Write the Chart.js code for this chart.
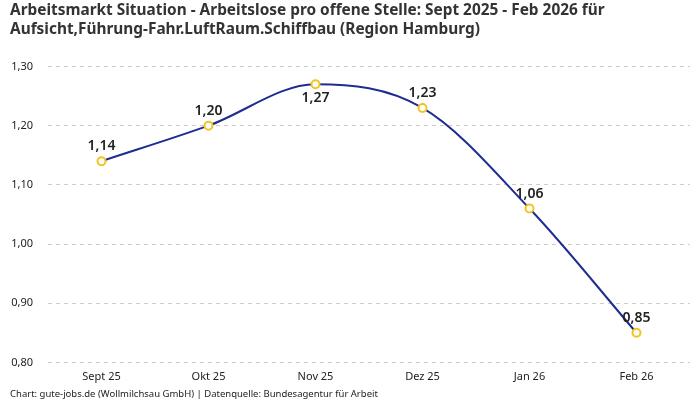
<!DOCTYPE html>
<html>
<head>
<meta charset="utf-8">
<script src="https://cdn.jsdelivr.net/npm/chart.js@4/dist/chart.umd.min.js"></script>
<style>
html,body{margin:0;padding:0;background:#fff;}
#wrap{width:700px;height:400px;}
</style>
</head>
<body>
<div id="wrap"><canvas id="c"></canvas></div>
<script>
const categories = ["Sept 25","Okt 25","Nov 25","Dez 25","Jan 26","Feb 26"];
const values = [1.14, 1.20, 1.27, 1.23, 1.06, 0.85];
const yTicks = [0.80, 0.90, 1.00, 1.10, 1.20, 1.30];
const titleLines = ["Arbeitsmarkt Situation - Arbeitslose pro offene Stelle: Sept 2025 - Feb 2026 für","Aufsicht,Führung-Fahr.LuftRaum.Schiffbau (Region Hamburg)"];
const footerText = "Chart: gute-jobs.de (Wollmilchsau GmbH) | Datenquelle: Bundesagentur für Arbeit";

const fmt = v => v.toFixed(2).replace('.', ',');
const FONT = "'Noto Sans', 'DejaVu Sans', sans-serif";

const labelPlugin = {
  id: 'valueLabels',
  afterDatasetsDraw(chart) {
    const ctx = chart.ctx;
    const meta = chart.getDatasetMeta(0);
    const max = Math.max(...values);
    ctx.save();
    ctx.font = "600 14px " + FONT;
    ctx.fillStyle = "#222";
    ctx.textAlign = "center";
    ctx.textBaseline = "middle";
    meta.data.forEach((pt, i) => {
      const below = values[i] === max;
      ctx.fillText(fmt(values[i]), pt.x, below ? pt.y + 14 : pt.y - 15);
    });
    ctx.restore();
  }
};

new Chart(document.getElementById('c'), {
  type: 'line',
  data: {
    labels: categories,
    datasets: [{
      data: values,
      borderColor: '#1f2d8f',
      borderWidth: 2,
      cubicInterpolationMode: 'monotone',
      pointRadius: 4,
      pointBorderWidth: 2,
      pointBackgroundColor: '#fff',
      pointBorderColor: '#f5c320',
      fill: false
    }]
  },
  options: {
    responsive: true,
    maintainAspectRatio: false,
    animation: false,
    layout: { padding: { left: 10, right: 10, top: 1, bottom: 0 } },
    plugins: {
      legend: { display: false },
      tooltip: { enabled: false },
      title: {
        display: true,
        text: titleLines,
        align: 'start',
        color: '#333',
        font: { family: FONT, size: 15.4, weight: 'bold', lineHeight: 1.25 },
        padding: { top: 0, bottom: 27 }
      },
      subtitle: {
        display: true,
        text: footerText,
        position: 'bottom',
        align: 'start',
        color: '#222',
        font: { family: FONT, size: 9.5 },
        padding: { top: 5, bottom: 0 }
      }
    },
    scales: {
      x: {
        offset: true,
        grid: { display: false },
        border: { display: false },
        ticks: { color: '#222', font: { family: FONT, size: 11 }, padding: 0 }
      },
      y: {
        min: 0.8,
        max: 1.3,
        afterBuildTicks: axis => { axis.ticks = yTicks.map(v => ({ value: v })); },
        afterFit: axis => { axis.width = 38; },
        grid: { color: '#cccccc', lineWidth: 1, drawTicks: false },
        border: { display: false, dash: [4, 4] },
        ticks: {
          color: '#222',
          font: { family: FONT, size: 11 },
          padding: 15,
          callback: v => fmt(v)
        }
      }
    }
  },
  plugins: [labelPlugin]
});
</script>
</body>
</html>
